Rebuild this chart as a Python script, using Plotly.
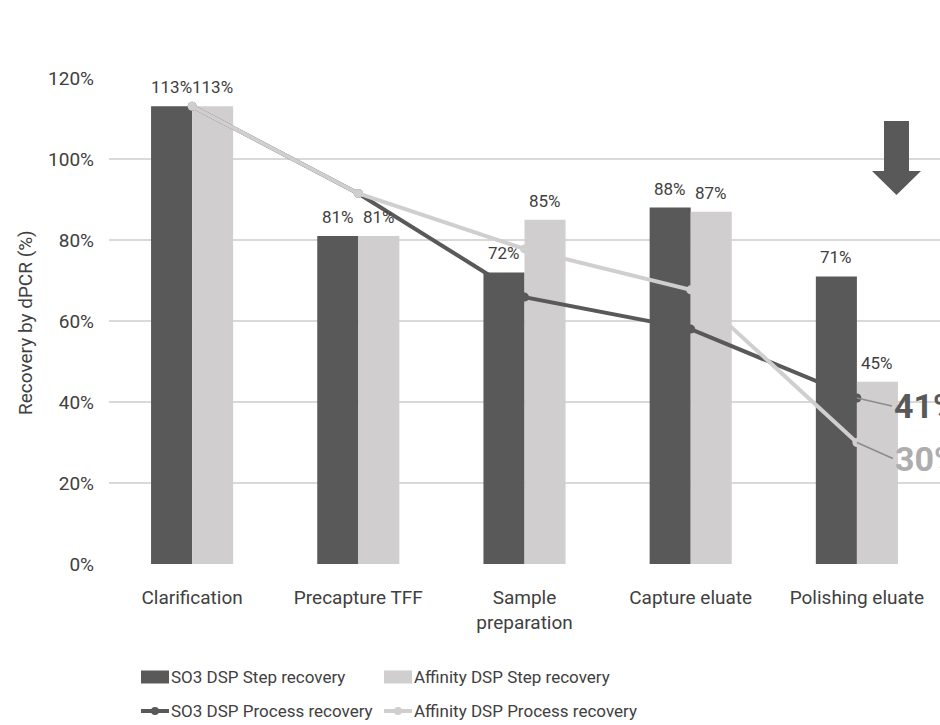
import plotly.graph_objects as go

# ---- data ----
steps = ["Clarification", "Precapture TFF", "Sample<br>preparation", "Capture eluate", "Polishing eluate"]
so3_step = [113, 81, 72, 88, 71]
affinity_step = [113, 81, 85, 87, 45]
so3_process = [113, 91.5, 65.9, 58.0, 41]
affinity_process = [113, 91.5, 77.8, 67.7, 30]
y_ticks = [0, 20, 40, 60, 80, 100, 120]
y_tick_text = [f"{v}%" for v in y_ticks]

DARK = "#595959"
LIGHT = "#D0CECE"
TEXT = "#404040"
GRID = "#D9D9D9"
FONT = "Roboto, Lato, sans-serif"

W, H = 940, 725
ML, MR, MT, MB = 109, 0, 78, 161
PW, PH = W - ML - MR, H - MT - MB
BARGAP = 0.506
# half of one bar's width in pixels (two bars per category, no group gap)
HALF_BAR_PX = (1 - BARGAP) * PW / len(steps) / 4


def px(x):
    return (x - ML) / PW


def py(y):
    return (H - MB - y) / PH


fig = go.Figure()

fig.add_trace(go.Bar(
    x=steps, y=so3_step, name="SO3 DSP Step recovery",
    marker=dict(color=DARK, line=dict(width=0)),
))
fig.add_trace(go.Bar(
    x=steps, y=affinity_step, name="Affinity DSP Step recovery",
    marker=dict(color=LIGHT, line=dict(width=0)),
))
fig.add_trace(go.Scatter(
    x=steps, y=so3_process, name="SO3 DSP Process recovery",
    mode="lines+markers",
    line=dict(color=DARK, width=4), marker=dict(color=DARK, size=9),
    cliponaxis=False,
))
fig.add_trace(go.Scatter(
    x=steps, y=affinity_process, name="Affinity DSP Process recovery",
    mode="lines+markers",
    line=dict(color=LIGHT, width=4), marker=dict(color=LIGHT, size=9),
    cliponaxis=False,
))

# value labels above each bar
for values, sign in ((so3_step, -1), (affinity_step, 1)):
    for cat, v in zip(steps, values):
        fig.add_annotation(
            x=cat, y=v, text=f"{v}%", showarrow=False,
            xshift=sign * HALF_BAR_PX, yshift=7, yanchor="bottom",
            font=dict(family=FONT, size=17, color=TEXT),
        )

# end-of-process callouts
fig.add_annotation(
    x=steps[-1], y=so3_process[-1], text=f"<b>{so3_process[-1]:.0f}%</b>",
    showarrow=True, arrowhead=0, arrowwidth=1.5, arrowcolor="#8C8C8C",
    ax=35, ay=8, xanchor="left", yanchor="middle",
    font=dict(family=FONT, size=34, color=DARK),
)
fig.add_annotation(
    x=steps[-1], y=affinity_process[-1], text=f"<b>{affinity_process[-1]:.0f}%</b>",
    showarrow=True, arrowhead=0, arrowwidth=1.5, arrowcolor="#8C8C8C",
    ax=36, ay=16, xanchor="left", yanchor="middle",
    font=dict(family=FONT, size=34, color="#ADADAD"),
)

# downward block arrow
arrow_pts = [(884, 121), (909, 121), (909, 171), (921, 171), (896.5, 195),
             (872, 171), (884, 171)]
path = "M " + " L ".join(f"{px(x):.5f},{py(y):.5f}" for x, y in arrow_pts) + " Z"
fig.add_shape(type="path", xref="paper", yref="paper", path=path,
              fillcolor=DARK, line=dict(width=0))

# y-axis title
fig.add_annotation(
    x=px(25), y=py(323), xref="paper", yref="paper", showarrow=False,
    xanchor="center", yanchor="middle",
    text="Recovery by dPCR (%)", textangle=-90,
    font=dict(family=FONT, size=19, color=TEXT),
)

# legend, drawn below the axis
legend_rows = [
    [(141, "bar", DARK, "SO3 DSP Step recovery"),
     (384, "bar", LIGHT, "Affinity DSP Step recovery")],
    [(141, "line", DARK, "SO3 DSP Process recovery"),
     (384, "line", LIGHT, "Affinity DSP Process recovery")],
]
row_y = [677, 711]
for ry, row in zip(row_y, legend_rows):
    for x0, kind, color, label in row:
        if kind == "bar":
            fig.add_shape(type="rect", xref="paper", yref="paper",
                          x0=px(x0), x1=px(x0 + 28), y0=py(ry - 6.5), y1=py(ry + 6.5),
                          fillcolor=color, line=dict(width=0))
        else:
            fig.add_shape(type="line", xref="paper", yref="paper",
                          x0=px(x0), x1=px(x0 + 28), y0=py(ry), y1=py(ry),
                          line=dict(color=color, width=4))
            fig.add_shape(type="circle", xref="paper", yref="paper",
                          x0=px(x0 + 10), x1=px(x0 + 18), y0=py(ry - 4), y1=py(ry + 4),
                          fillcolor=color, line=dict(width=0))
        fig.add_annotation(
            x=px(x0 + 28), y=py(ry), xref="paper", yref="paper", showarrow=False,
            xanchor="left", yanchor="middle", text=label,
            font=dict(family=FONT, size=17, color=TEXT),
        )

fig.update_layout(
    width=W, height=H,
    margin=dict(l=ML, r=MR, t=MT, b=MB),
    paper_bgcolor="white", plot_bgcolor="white",
    barmode="group", bargap=BARGAP, bargroupgap=0,
    showlegend=False,
    font=dict(family=FONT, color=TEXT),
)
fig.update_xaxes(
    range=[-0.5, len(steps) - 0.5],
    showgrid=False, showline=False, zeroline=False, ticks="",
    tickfont=dict(family=FONT, size=19, color=TEXT),
    ticklabelstandoff=20,
)
fig.update_yaxes(
    range=[0, 120], tickvals=y_ticks, ticktext=y_tick_text,
    showgrid=True, gridcolor=GRID, gridwidth=2, zeroline=False, showline=False,
    tickfont=dict(family=FONT, size=19, color=TEXT),
    ticklabelstandoff=14,
)

fig.write_html("out.html")
